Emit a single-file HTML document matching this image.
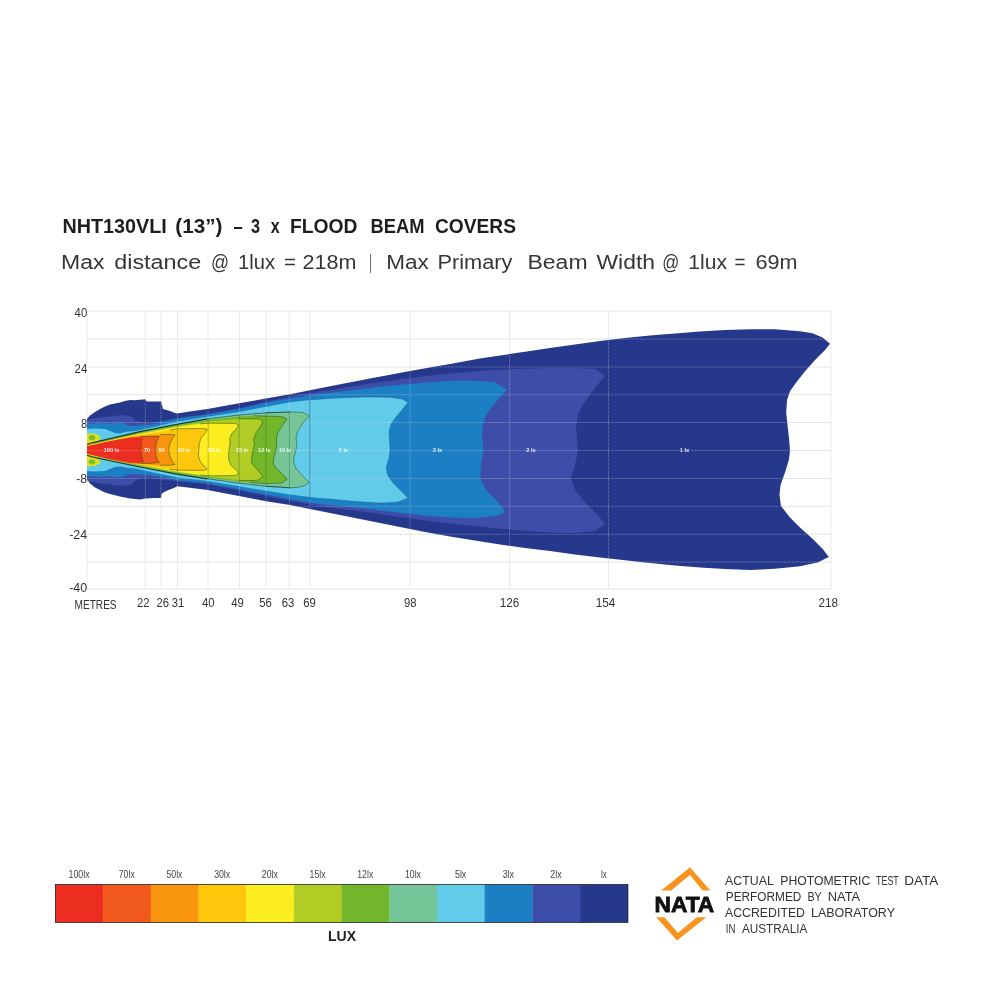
<!DOCTYPE html>
<html lang="en"><head><meta charset="utf-8"><title>NHT130VLI Flood Beam Pattern</title>
<style>
html,body{margin:0;padding:0;background:#fff;}
body{width:1000px;height:1000px;overflow:hidden;font-family:"Liberation Sans",sans-serif;}
svg{display:block;}
</style></head><body>
<svg width="1000" height="1000" viewBox="0 0 1000 1000">
<defs><clipPath id="beam"><polygon points="87.0,419.0 90.0,415.5 95.0,412.0 100.0,409.0 105.0,406.5 110.0,404.5 115.0,403.5 120.0,402.5 125.0,401.0 130.0,400.0 135.0,400.2 140.0,399.8 145.0,399.2 147.0,401.5 155.0,401.5 161.0,401.5 162.0,405.0 163.0,409.0 170.0,411.0 175.0,413.0 177.0,413.6 188.0,411.8 207.5,409.0 239.0,403.3 266.0,398.5 290.0,394.3 320.0,388.3 330.0,386.3 370.0,378.6 410.0,371.0 434.0,366.8 450.0,364.0 480.0,358.5 500.0,355.5 525.0,351.7 550.0,348.0 575.0,344.5 600.0,341.0 625.0,338.0 650.0,335.5 675.0,333.5 700.0,331.6 725.0,330.0 750.0,329.2 775.0,329.2 800.0,331.2 812.5,333.2 822.5,337.5 830.0,343.8 825.0,350.0 815.0,360.0 805.0,371.2 796.2,382.5 790.0,391.2 787.0,400.0 786.2,412.5 787.5,425.0 789.2,440.0 790.0,450.8 788.8,460.0 785.0,472.5 780.5,485.0 779.5,495.0 781.0,506.0 790.0,517.5 800.0,527.5 812.5,538.8 822.5,548.8 828.8,557.0 817.5,562.5 800.0,566.2 775.0,568.8 750.0,570.0 725.0,569.0 700.0,567.5 675.0,565.5 650.0,563.0 625.0,560.2 600.0,557.5 575.0,554.5 550.0,551.0 525.0,548.0 500.0,544.5 475.0,540.5 450.0,536.5 425.0,532.0 410.0,529.0 370.0,521.0 330.0,513.0 320.0,511.0 290.0,505.0 266.0,501.2 239.0,496.0 207.5,490.0 188.0,487.5 177.0,486.2 175.0,487.5 170.0,489.5 165.0,491.5 161.5,494.0 161.0,498.0 155.0,498.0 145.0,498.5 140.0,499.5 130.0,498.5 120.0,496.5 110.0,494.0 105.0,492.5 100.0,490.0 95.0,487.5 90.0,483.5 87.0,479.0"/></clipPath><clipPath id="r5"><polygon points="87.0,444.5 92.0,442.8 140.0,431.6 176.8,424.3 207.5,418.8 239.0,415.0 266.0,412.8 290.0,412.0 300.0,412.2 304.0,412.8 309.0,416.0 301.8,424.5 297.3,432.3 296.0,438.8 296.9,444.0 296.0,449.9 294.0,457.0 293.6,463.0 296.0,468.6 302.0,475.0 309.2,482.6 304.4,485.8 298.0,487.2 294.0,487.5 290.0,487.8 266.0,486.2 239.0,483.2 207.5,478.8 176.8,474.2 140.0,467.0 92.0,457.0 87.0,455.3"/></clipPath><filter id="soft" x="-2%" y="-2%" width="104%" height="104%"><feGaussianBlur stdDeviation="0.35"/></filter></defs>
<rect width="1000" height="1000" fill="#fff"/>
<g stroke="#ebebeb" stroke-width="1" fill="none"><line x1="87.0" y1="311" x2="87.0" y2="589"/><line x1="145.4" y1="311" x2="145.4" y2="589"/><line x1="161.0" y1="311" x2="161.0" y2="589"/><line x1="177.5" y1="311" x2="177.5" y2="589"/><line x1="208.0" y1="311" x2="208.0" y2="589"/><line x1="239.5" y1="311" x2="239.5" y2="589"/><line x1="266.0" y1="311" x2="266.0" y2="589"/><line x1="289.4" y1="311" x2="289.4" y2="589"/><line x1="310.0" y1="311" x2="310.0" y2="589"/><line x1="410.0" y1="311" x2="410.0" y2="589"/><line x1="509.6" y1="311" x2="509.6" y2="589"/><line x1="608.5" y1="311" x2="608.5" y2="589"/><line x1="831.0" y1="311" x2="831.0" y2="589"/><line x1="87" y1="311.0" x2="831" y2="311.0" stroke="#e4e4e4"/><line x1="87" y1="339.0" x2="831" y2="339.0" stroke="#e4e4e4"/><line x1="87" y1="367.0" x2="831" y2="367.0" stroke="#e4e4e4"/><line x1="87" y1="394.7" x2="831" y2="394.7" stroke="#e4e4e4"/><line x1="87" y1="422.5" x2="831" y2="422.5" stroke="#e4e4e4"/><line x1="87" y1="450.5" x2="831" y2="450.5" stroke="#e4e4e4"/><line x1="87" y1="478.5" x2="831" y2="478.5" stroke="#e4e4e4"/><line x1="87" y1="506.3" x2="831" y2="506.3" stroke="#e4e4e4"/><line x1="87" y1="534.3" x2="831" y2="534.3" stroke="#e4e4e4"/><line x1="87" y1="562.0" x2="831" y2="562.0" stroke="#e4e4e4"/><line x1="87" y1="589.0" x2="831" y2="589.0" stroke="#e4e4e4"/></g>
<g font-family="'Liberation Sans',sans-serif" font-size="13" fill="#333" text-anchor="end"><text x="87.2" y="316.7" textLength="12.6" lengthAdjust="spacingAndGlyphs">40</text><text x="87.2" y="372.7" textLength="12.6" lengthAdjust="spacingAndGlyphs">24</text><text x="87.2" y="427.7" textLength="6.2" lengthAdjust="spacingAndGlyphs">8</text><text x="87.2" y="483.2" textLength="11.0" lengthAdjust="spacingAndGlyphs">-8</text><text x="87.2" y="539.2" textLength="18.0" lengthAdjust="spacingAndGlyphs">-24</text><text x="87.2" y="591.7" textLength="18.0" lengthAdjust="spacingAndGlyphs">-40</text></g>
<g id="beamg" filter="url(#soft)"><polygon fill="#25388c" points="87.0,419.0 90.0,415.5 95.0,412.0 100.0,409.0 105.0,406.5 110.0,404.5 115.0,403.5 120.0,402.5 125.0,401.0 130.0,400.0 135.0,400.2 140.0,399.8 145.0,399.2 147.0,401.5 155.0,401.5 161.0,401.5 162.0,405.0 163.0,409.0 170.0,411.0 175.0,413.0 177.0,413.6 188.0,411.8 207.5,409.0 239.0,403.3 266.0,398.5 290.0,394.3 320.0,388.3 330.0,386.3 370.0,378.6 410.0,371.0 434.0,366.8 450.0,364.0 480.0,358.5 500.0,355.5 525.0,351.7 550.0,348.0 575.0,344.5 600.0,341.0 625.0,338.0 650.0,335.5 675.0,333.5 700.0,331.6 725.0,330.0 750.0,329.2 775.0,329.2 800.0,331.2 812.5,333.2 822.5,337.5 830.0,343.8 825.0,350.0 815.0,360.0 805.0,371.2 796.2,382.5 790.0,391.2 787.0,400.0 786.2,412.5 787.5,425.0 789.2,440.0 790.0,450.8 788.8,460.0 785.0,472.5 780.5,485.0 779.5,495.0 781.0,506.0 790.0,517.5 800.0,527.5 812.5,538.8 822.5,548.8 828.8,557.0 817.5,562.5 800.0,566.2 775.0,568.8 750.0,570.0 725.0,569.0 700.0,567.5 675.0,565.5 650.0,563.0 625.0,560.2 600.0,557.5 575.0,554.5 550.0,551.0 525.0,548.0 500.0,544.5 475.0,540.5 450.0,536.5 425.0,532.0 410.0,529.0 370.0,521.0 330.0,513.0 320.0,511.0 290.0,505.0 266.0,501.2 239.0,496.0 207.5,490.0 188.0,487.5 177.0,486.2 175.0,487.5 170.0,489.5 165.0,491.5 161.5,494.0 161.0,498.0 155.0,498.0 145.0,498.5 140.0,499.5 130.0,498.5 120.0,496.5 110.0,494.0 105.0,492.5 100.0,490.0 95.0,487.5 90.0,483.5 87.0,479.0"/><polygon fill="#3c4ea8" points="87.0,421.0 88.0,419.5 100.0,417.5 110.0,416.5 122.0,415.0 132.0,416.5 134.5,420.0 140.0,422.0 150.0,422.5 165.0,420.3 176.8,418.0 207.5,413.7 239.0,408.2 266.0,401.7 290.0,396.6 320.0,391.5 330.0,390.0 370.0,383.5 410.0,378.0 440.0,374.5 480.0,371.0 500.0,369.5 550.0,368.0 580.0,368.3 595.0,368.8 605.0,375.5 597.5,385.0 590.0,395.0 582.5,405.0 578.0,415.0 576.0,427.5 577.5,442.5 578.0,450.8 575.0,465.0 571.0,477.5 575.0,490.0 585.0,502.5 597.5,515.0 605.0,523.8 595.0,531.0 575.0,533.0 550.0,532.5 525.0,531.0 500.0,528.8 475.0,526.0 450.0,523.5 425.0,520.5 410.0,518.5 370.0,512.5 330.0,507.5 320.0,506.3 290.0,500.8 266.0,496.0 239.0,490.5 207.5,484.3 176.8,481.3 165.0,480.0 150.0,478.0 140.0,478.5 134.5,481.0 132.0,484.5 122.0,486.0 110.0,484.5 100.0,483.5 88.0,481.0 87.0,479.0"/><polygon fill="#1b7fc4" points="87.0,424.0 100.0,423.0 110.0,423.5 120.0,422.5 125.0,424.0 130.0,426.0 140.0,425.5 150.0,425.0 165.0,421.5 176.8,418.8 207.5,414.5 239.0,409.0 266.0,402.7 290.0,398.5 320.0,394.0 330.0,392.7 370.0,388.0 380.0,386.5 410.0,384.0 440.0,381.5 460.0,380.5 480.0,381.0 495.0,382.5 507.0,389.5 500.0,397.5 492.5,406.0 486.0,415.0 483.0,425.0 482.0,435.0 483.5,450.0 481.0,465.0 480.0,477.5 486.0,490.0 496.0,500.0 502.5,507.5 505.0,512.5 495.0,516.0 475.0,518.0 450.0,517.5 425.0,515.5 410.0,514.0 370.0,509.0 330.0,505.0 320.0,504.2 290.0,499.0 266.0,494.5 239.0,489.2 207.5,483.2 176.8,480.2 165.0,477.5 150.0,475.0 140.0,474.5 130.0,474.0 125.0,476.0 120.0,477.5 110.0,476.5 100.0,477.0 87.0,476.0"/><polygon fill="#62cbea" points="87.0,429.0 95.0,428.5 105.0,429.0 110.0,431.0 115.0,433.0 120.0,433.5 125.0,432.0 130.0,431.5 135.0,431.0 140.0,430.0 165.0,424.5 176.8,421.8 207.5,416.8 239.0,412.0 266.0,406.8 290.0,402.2 310.0,400.0 330.0,398.4 350.0,397.4 370.0,397.0 390.0,397.4 402.0,399.0 408.0,402.4 402.0,410.0 396.0,417.0 391.0,424.0 389.0,432.0 389.6,442.0 390.0,450.0 389.0,458.0 386.0,468.0 388.0,476.0 394.0,484.0 402.0,492.0 408.0,498.0 398.0,502.0 380.0,503.0 350.0,501.0 330.0,499.0 320.0,498.2 290.0,494.5 266.0,490.8 239.0,486.2 207.5,481.0 176.8,477.2 165.0,475.0 140.0,469.5 135.0,468.5 130.0,468.0 125.0,467.5 120.0,466.5 115.0,467.0 110.0,469.0 105.0,471.0 95.0,471.5 87.0,471.0"/><g clip-path="url(#beam)" stroke="#e6e6ea" stroke-opacity="0.3" stroke-width="0.9" stroke-dasharray="3 1" fill="none"><line x1="145.4" y1="311" x2="145.4" y2="589"/><line x1="161.0" y1="311" x2="161.0" y2="589"/><line x1="177.5" y1="311" x2="177.5" y2="589"/><line x1="208.0" y1="311" x2="208.0" y2="589"/><line x1="239.5" y1="311" x2="239.5" y2="589"/><line x1="266.0" y1="311" x2="266.0" y2="589"/><line x1="289.4" y1="311" x2="289.4" y2="589"/><line x1="310.0" y1="311" x2="310.0" y2="589"/><line x1="410.0" y1="311" x2="410.0" y2="589"/><line x1="509.6" y1="311" x2="509.6" y2="589"/><line x1="608.5" y1="311" x2="608.5" y2="589"/><line x1="87" y1="311.0" x2="831" y2="311.0"/><line x1="87" y1="339.0" x2="831" y2="339.0"/><line x1="87" y1="367.0" x2="831" y2="367.0"/><line x1="87" y1="394.7" x2="831" y2="394.7"/><line x1="87" y1="422.5" x2="831" y2="422.5"/><line x1="87" y1="450.5" x2="831" y2="450.5"/><line x1="87" y1="478.5" x2="831" y2="478.5"/><line x1="87" y1="506.3" x2="831" y2="506.3"/><line x1="87" y1="534.3" x2="831" y2="534.3"/><line x1="87" y1="562.0" x2="831" y2="562.0"/><line x1="87" y1="589.0" x2="831" y2="589.0"/></g><polygon fill="#74c597" points="87.0,444.5 92.0,442.8 140.0,431.6 176.8,424.3 207.5,418.8 239.0,415.0 266.0,412.8 290.0,412.0 300.0,412.2 304.0,412.8 309.0,416.0 301.8,424.5 297.3,432.3 296.0,438.8 296.9,444.0 296.0,449.9 294.0,457.0 293.6,463.0 296.0,468.6 302.0,475.0 309.2,482.6 304.4,485.8 298.0,487.2 294.0,487.5 290.0,487.8 266.0,486.2 239.0,483.2 207.5,478.8 176.8,474.2 140.0,467.0 92.0,457.0 87.0,455.3"/><polygon fill="#72b72b" points="87.0,444.8 140.0,432.4 176.8,425.3 207.5,420.0 239.0,416.5 254.0,415.8 281.0,416.5 286.9,418.7 282.3,425.8 278.4,431.0 276.5,437.5 276.9,444.0 275.8,450.5 273.9,457.0 273.2,463.5 276.4,468.6 282.0,473.8 287.2,479.2 282.0,483.0 266.0,483.6 250.0,482.4 239.0,481.5 207.5,477.6 176.8,473.3 140.0,466.2 87.0,455.0"/><polygon fill="#b2cc25" points="87.0,445.1 140.0,433.2 176.8,426.2 207.5,421.2 239.0,418.9 242.0,418.8 259.5,418.9 262.8,421.9 260.2,427.1 256.3,432.3 253.7,438.8 254.4,444.0 253.1,449.9 251.8,457.0 251.6,463.0 256.4,468.6 260.2,473.0 263.0,476.3 258.0,480.2 250.0,480.6 242.0,480.4 239.0,480.2 207.5,476.5 176.8,472.4 140.0,465.4 87.0,454.8"/><polygon fill="#fdee21" points="87.0,445.4 140.0,434.0 176.8,427.0 200.0,423.8 209.0,423.2 235.5,423.4 238.8,425.2 235.5,429.7 231.6,433.6 229.7,438.8 230.0,444.0 229.0,449.9 228.4,455.7 229.0,460.9 231.6,466.1 236.2,470.0 238.8,472.6 235.5,475.6 212.0,475.8 200.0,475.0 176.8,471.6 140.0,464.6 87.0,454.6"/><polygon fill="#fec70b" points="87.0,445.7 140.0,435.0 170.0,430.0 177.0,428.8 204.0,428.6 207.4,429.4 204.7,433.5 201.1,438.0 199.3,443.4 198.8,449.7 198.4,456.0 199.8,460.5 202.9,465.0 207.4,469.0 204.0,470.3 177.0,470.2 170.0,469.3 140.0,464.3 87.0,454.3"/><polygon fill="#f9950f" points="87.0,446.0 120.0,438.9 130.0,436.9 140.0,435.8 160.0,434.6 170.0,434.4 175.0,434.9 172.0,439.0 169.6,444.5 168.7,450.0 169.6,455.5 172.0,461.0 175.0,464.6 170.0,465.2 160.0,465.3 140.0,464.0 130.0,463.2 120.0,461.5 87.0,454.0"/><polygon fill="#f15a1c" points="87.0,446.3 120.0,439.2 130.0,437.4 140.0,436.6 150.0,436.3 159.2,436.6 157.0,440.5 155.9,445.0 155.7,450.0 155.9,455.0 157.0,459.0 159.2,462.3 150.0,463.5 140.0,463.3 130.0,462.9 120.0,461.2 87.0,453.7"/><polygon fill="#ec2e20" points="87.0,446.4 105.0,442.2 120.0,439.5 130.0,437.8 138.0,437.4 143.5,438.4 141.5,444.0 140.8,450.0 141.5,456.0 143.5,462.0 138.0,463.0 130.0,462.6 120.0,460.8 105.0,458.0 87.0,453.6"/><polyline fill="none" stroke="#14506e" stroke-opacity="0.5" stroke-width="0.6" points="310.0,400.0 330.0,398.4 350.0,397.4 370.0,397.0 390.0,397.4 402.0,399.0 408.0,402.4 402.0,410.0 396.0,417.0 391.0,424.0 389.0,432.0 389.6,442.0 390.0,450.0 389.0,458.0 386.0,468.0 388.0,476.0 394.0,484.0 402.0,492.0 408.0,498.0 398.0,502.0 380.0,503.0 350.0,501.0 330.0,499.0 320.0,498.2"/><polyline fill="none" stroke="#1a4216" stroke-opacity="0.6" stroke-width="0.8" points="266.0,412.8 290.0,412.0 300.0,412.2 304.0,412.8 309.0,416.0 301.8,424.5 297.3,432.3 296.0,438.8 296.9,444.0 296.0,449.9 294.0,457.0 293.6,463.0 296.0,468.6 302.0,475.0 309.2,482.6 304.4,485.8 298.0,487.2 294.0,487.5 290.0,487.8 266.0,486.2"/><polyline fill="none" stroke="#1a4216" stroke-opacity="0.6" stroke-width="0.8" points="254.0,415.8 281.0,416.5 286.9,418.7 282.3,425.8 278.4,431.0 276.5,437.5 276.9,444.0 275.8,450.5 273.9,457.0 273.2,463.5 276.4,468.6 282.0,473.8 287.2,479.2 282.0,483.0 266.0,483.6 250.0,482.4"/><polyline fill="none" stroke="#1a4216" stroke-opacity="0.6" stroke-width="0.8" points="239.0,418.9 242.0,418.8 259.5,418.9 262.8,421.9 260.2,427.1 256.3,432.3 253.7,438.8 254.4,444.0 253.1,449.9 251.8,457.0 251.6,463.0 256.4,468.6 260.2,473.0 263.0,476.3 258.0,480.2 250.0,480.6 242.0,480.4 239.0,480.2"/><polyline fill="none" stroke="#1a4216" stroke-opacity="0.6" stroke-width="0.8" points="200.0,423.8 209.0,423.2 235.5,423.4 238.8,425.2 235.5,429.7 231.6,433.6 229.7,438.8 230.0,444.0 229.0,449.9 228.4,455.7 229.0,460.9 231.6,466.1 236.2,470.0 238.8,472.6 235.5,475.6 212.0,475.8 200.0,475.0"/><polyline fill="none" stroke="#1a4216" stroke-opacity="0.6" stroke-width="0.8" points="170.0,430.0 177.0,428.8 204.0,428.6 207.4,429.4 204.7,433.5 201.1,438.0 199.3,443.4 198.8,449.7 198.4,456.0 199.8,460.5 202.9,465.0 207.4,469.0 204.0,470.3 177.0,470.2 170.0,469.3"/><polyline fill="none" stroke="#1a4216" stroke-opacity="0.6" stroke-width="0.8" points="160.0,434.6 170.0,434.4 175.0,434.9 172.0,439.0 169.6,444.5 168.7,450.0 169.6,455.5 172.0,461.0 175.0,464.6 170.0,465.2 160.0,465.3"/><polyline fill="none" stroke="#1a4216" stroke-opacity="0.6" stroke-width="0.8" points="140.0,436.6 150.0,436.3 159.2,436.6 157.0,440.5 155.9,445.0 155.7,450.0 155.9,455.0 157.0,459.0 159.2,462.3 150.0,463.5 140.0,463.3"/><polyline fill="none" stroke="#1a4216" stroke-opacity="0.6" stroke-width="0.8" points="141.5,444.0 140.8,450.0 141.5,456.0 143.5,462.0"/><path d="M87,433.5 Q95,432.5 100,436 Q101,439.5 97,441.7 L87,444.5 Z" fill="#dfe024"/><ellipse cx="92" cy="437.6" rx="3.4" ry="2.6" fill="#7cbf2a"/><path d="M87,466 Q95,467 100,463.5 Q101,460.5 97,458.2 L87,455.3 Z" fill="#dfe024"/><ellipse cx="92" cy="462" rx="3.4" ry="2.4" fill="#7cbf2a"/><polyline fill="none" stroke="#10220c" stroke-width="1.2" stroke-opacity="0.85" points="87.0,444.5 92.0,442.8 140.0,431.6 176.8,424.3 207.5,418.8"/><polyline fill="none" stroke="#10220c" stroke-width="0.9" stroke-opacity="0.55" points="207.5,418.8 239.0,415.0 266.0,412.8 290.0,412.0"/><polyline fill="none" stroke="#10220c" stroke-width="1.2" stroke-opacity="0.85" points="207.5,478.8 176.8,474.2 140.0,467.0 92.0,457.0 87.0,455.3"/><polyline fill="none" stroke="#10220c" stroke-width="0.9" stroke-opacity="0.55" points="290.0,487.8 266.0,486.2 239.0,483.2 207.5,478.8"/></g>
<line x1="87" y1="450.5" x2="309" y2="450.5" stroke="#fff" stroke-opacity="0.22" stroke-width="0.8" stroke-dasharray="3 1"/>
<g clip-path="url(#r5)" stroke="#2d4a3a" stroke-opacity="0.38" stroke-width="0.8" fill="none"><line x1="177.3" y1="400" x2="177.3" y2="500"/><line x1="208.2" y1="400" x2="208.2" y2="500"/><line x1="239.2" y1="400" x2="239.2" y2="500"/><line x1="266.0" y1="400" x2="266.0" y2="500"/><line x1="289.4" y1="400" x2="289.4" y2="500"/></g><line x1="309.8" y1="400.2" x2="309.8" y2="498.4" stroke="#1f4a66" stroke-opacity="0.6" stroke-width="0.8"/>
<g font-family="'Liberation Sans',sans-serif" font-size="5.6" font-weight="bold" fill="#fff" fill-opacity="0.85" text-anchor="middle"><text x="111.5" y="452.1">100 lx</text><text x="147.0" y="452.1">70</text><text x="161.5" y="452.1">50</text><text x="184.0" y="452.1">30 lx</text><text x="214.0" y="452.1">20 lx</text><text x="242.0" y="452.1">15 lx</text><text x="264.3" y="452.1">12 lx</text><text x="285.0" y="452.1">10 lx</text><text x="343.5" y="452.1">5 lx</text><text x="437.5" y="452.1">3 lx</text><text x="531.0" y="452.1">2 lx</text><text x="684.5" y="452.1">1 lx</text></g>
<g font-family="'Liberation Sans',sans-serif" font-size="13" fill="#333" text-anchor="middle"><text x="143.3" y="607.2" textLength="12.6" lengthAdjust="spacingAndGlyphs">22</text><text x="162.8" y="607.2" textLength="12.6" lengthAdjust="spacingAndGlyphs">26</text><text x="178.0" y="607.2" textLength="12.6" lengthAdjust="spacingAndGlyphs">31</text><text x="208.2" y="607.2" textLength="12.6" lengthAdjust="spacingAndGlyphs">40</text><text x="237.5" y="607.2" textLength="12.6" lengthAdjust="spacingAndGlyphs">49</text><text x="265.5" y="607.2" textLength="12.6" lengthAdjust="spacingAndGlyphs">56</text><text x="288.0" y="607.2" textLength="12.6" lengthAdjust="spacingAndGlyphs">63</text><text x="309.5" y="607.2" textLength="12.6" lengthAdjust="spacingAndGlyphs">69</text><text x="410.2" y="607.2" textLength="12.6" lengthAdjust="spacingAndGlyphs">98</text><text x="509.6" y="607.2" textLength="19.6" lengthAdjust="spacingAndGlyphs">126</text><text x="605.6" y="607.2" textLength="19.6" lengthAdjust="spacingAndGlyphs">154</text><text x="828.2" y="607.2" textLength="19.6" lengthAdjust="spacingAndGlyphs">218</text></g><text x="74.6" y="609" font-family="'Liberation Sans',sans-serif" font-size="13" fill="#333" textLength="42" lengthAdjust="spacingAndGlyphs">METRES</text>
<g font-family="'Liberation Sans',sans-serif" font-size="20" font-weight="bold" fill="#1e1e1e"><text x="62.50" y="233.0" textLength="104.29" lengthAdjust="spacingAndGlyphs">NHT130VLI</text><text x="175.30" y="233.0" textLength="47.17" lengthAdjust="spacingAndGlyphs">(13”)</text><text x="233.50" y="233.0" textLength="9.22" lengthAdjust="spacingAndGlyphs">–</text><text x="251.00" y="233.0" textLength="9.02" lengthAdjust="spacingAndGlyphs">3</text><text x="270.80" y="233.0" textLength="8.92" lengthAdjust="spacingAndGlyphs">x</text><text x="290.00" y="233.0" textLength="67.49" lengthAdjust="spacingAndGlyphs">FLOOD</text><text x="370.50" y="233.0" textLength="53.99" lengthAdjust="spacingAndGlyphs">BEAM</text><text x="435.00" y="233.0" textLength="80.97" lengthAdjust="spacingAndGlyphs">COVERS</text></g>
<g font-family="'Liberation Sans',sans-serif" font-size="20" fill="#363636"><text x="61.00" y="269.0" textLength="43.48" lengthAdjust="spacingAndGlyphs">Max</text><text x="114.20" y="269.0" textLength="87.09" lengthAdjust="spacingAndGlyphs">distance</text><text x="211.00" y="269.0" textLength="18.00" lengthAdjust="spacingAndGlyphs">@</text><text x="238.00" y="269.0" textLength="36.99" lengthAdjust="spacingAndGlyphs">1lux</text><text x="284.00" y="269.0" textLength="11.98" lengthAdjust="spacingAndGlyphs">=</text><text x="302.50" y="269.0" textLength="53.83" lengthAdjust="spacingAndGlyphs">218m</text><text x="369.50" y="269.0" textLength="2.30" lengthAdjust="spacingAndGlyphs">|</text><text x="386.20" y="269.0" textLength="42.58" lengthAdjust="spacingAndGlyphs">Max</text><text x="437.50" y="269.0" textLength="74.99" lengthAdjust="spacingAndGlyphs">Primary</text><text x="527.50" y="269.0" textLength="60.06" lengthAdjust="spacingAndGlyphs">Beam</text><text x="596.50" y="269.0" textLength="58.53" lengthAdjust="spacingAndGlyphs">Width</text><text x="662.30" y="269.0" textLength="17.00" lengthAdjust="spacingAndGlyphs">@</text><text x="688.30" y="269.0" textLength="38.69" lengthAdjust="spacingAndGlyphs">1lux</text><text x="734.50" y="269.0" textLength="10.98" lengthAdjust="spacingAndGlyphs">=</text><text x="755.50" y="269.0" textLength="42.01" lengthAdjust="spacingAndGlyphs">69m</text></g>
<rect x="55.4" y="884.6" width="48.0" height="37.8" fill="#ec2e20"/><rect x="103.1" y="884.6" width="48.0" height="37.8" fill="#f15a1c"/><rect x="150.8" y="884.6" width="48.0" height="37.8" fill="#f9950f"/><rect x="198.5" y="884.6" width="48.0" height="37.8" fill="#fec70b"/><rect x="246.2" y="884.6" width="48.0" height="37.8" fill="#fdee21"/><rect x="293.9" y="884.6" width="48.0" height="37.8" fill="#b2cc25"/><rect x="341.6" y="884.6" width="48.0" height="37.8" fill="#72b72b"/><rect x="389.3" y="884.6" width="48.0" height="37.8" fill="#74c597"/><rect x="437.0" y="884.6" width="48.0" height="37.8" fill="#62cbea"/><rect x="484.7" y="884.6" width="48.0" height="37.8" fill="#1b7fc4"/><rect x="532.4" y="884.6" width="48.0" height="37.8" fill="#3c4ea8"/><rect x="580.1" y="884.6" width="48.0" height="37.8" fill="#25388c"/><rect x="55.4" y="884.6" width="572.4" height="37.8" fill="none" stroke="#222" stroke-width="0.8"/><g font-family="'Liberation Sans',sans-serif" font-size="10" fill="#444" text-anchor="middle"><text x="68.55" y="878.3" textLength="21.01" lengthAdjust="spacingAndGlyphs" text-anchor="start">100lx</text><text x="118.75" y="878.3" textLength="16.00" lengthAdjust="spacingAndGlyphs" text-anchor="start">70lx</text><text x="166.45" y="878.3" textLength="16.00" lengthAdjust="spacingAndGlyphs" text-anchor="start">50lx</text><text x="214.15" y="878.3" textLength="16.00" lengthAdjust="spacingAndGlyphs" text-anchor="start">30lx</text><text x="261.85" y="878.3" textLength="16.00" lengthAdjust="spacingAndGlyphs" text-anchor="start">20lx</text><text x="309.55" y="878.3" textLength="16.00" lengthAdjust="spacingAndGlyphs" text-anchor="start">15lx</text><text x="357.25" y="878.3" textLength="16.00" lengthAdjust="spacingAndGlyphs" text-anchor="start">12lx</text><text x="404.95" y="878.3" textLength="16.00" lengthAdjust="spacingAndGlyphs" text-anchor="start">10lx</text><text x="454.95" y="878.3" textLength="11.39" lengthAdjust="spacingAndGlyphs" text-anchor="start">5lx</text><text x="502.65" y="878.3" textLength="11.39" lengthAdjust="spacingAndGlyphs" text-anchor="start">3lx</text><text x="550.35" y="878.3" textLength="11.39" lengthAdjust="spacingAndGlyphs" text-anchor="start">2lx</text><text x="600.90" y="878.3" textLength="5.72" lengthAdjust="spacingAndGlyphs" text-anchor="start">lx</text></g><text x="342" y="941.3" font-family="'Liberation Sans',sans-serif" font-size="14" font-weight="bold" fill="#222" text-anchor="middle">LUX</text>
<polygon fill="#f7941d" points="661.2,890.6 690,867.2 710.3,890.6 702.6,890.6 690,874.9 671.1,890.6"/>
<polygon fill="#f7941d" points="656.3,917.2 677,940.5 706.2,917.2 696.8,917.2 677.9,932.9 664.4,917.2"/>
<g font-family="'Liberation Sans',sans-serif" font-size="21.6" font-weight="bold" fill="#111" stroke="#111" stroke-width="0.8"><text x="654.50" y="911.5" textLength="59.78" lengthAdjust="spacingAndGlyphs">NATA</text></g>
<g font-family="'Liberation Sans',sans-serif" font-size="13.6" fill="#333"><text x="725.00" y="885.4" textLength="48.81" lengthAdjust="spacingAndGlyphs">ACTUAL</text><text x="780.30" y="885.4" textLength="89.91" lengthAdjust="spacingAndGlyphs">PHOTOMETRIC</text><text x="876.00" y="885.4" textLength="22.81" lengthAdjust="spacingAndGlyphs">TEST</text><text x="904.20" y="885.4" textLength="34.18" lengthAdjust="spacingAndGlyphs">DATA</text></g>
<g font-family="'Liberation Sans',sans-serif" font-size="13.6" fill="#333"><text x="725.80" y="901.1" textLength="75.59" lengthAdjust="spacingAndGlyphs">PERFORMED</text><text x="807.40" y="901.1" textLength="14.39" lengthAdjust="spacingAndGlyphs">BY</text><text x="827.80" y="901.1" textLength="32.38" lengthAdjust="spacingAndGlyphs">NATA</text></g>
<g font-family="'Liberation Sans',sans-serif" font-size="13.6" fill="#333"><text x="725.00" y="917.0" textLength="80.01" lengthAdjust="spacingAndGlyphs">ACCREDITED</text><text x="811.00" y="917.0" textLength="84.00" lengthAdjust="spacingAndGlyphs">LABORATORY</text></g>
<g font-family="'Liberation Sans',sans-serif" font-size="13.6" fill="#333"><text x="725.80" y="933.0" textLength="9.60" lengthAdjust="spacingAndGlyphs">IN</text><text x="741.90" y="933.0" textLength="65.47" lengthAdjust="spacingAndGlyphs">AUSTRALIA</text></g>
</svg>
</body></html>
